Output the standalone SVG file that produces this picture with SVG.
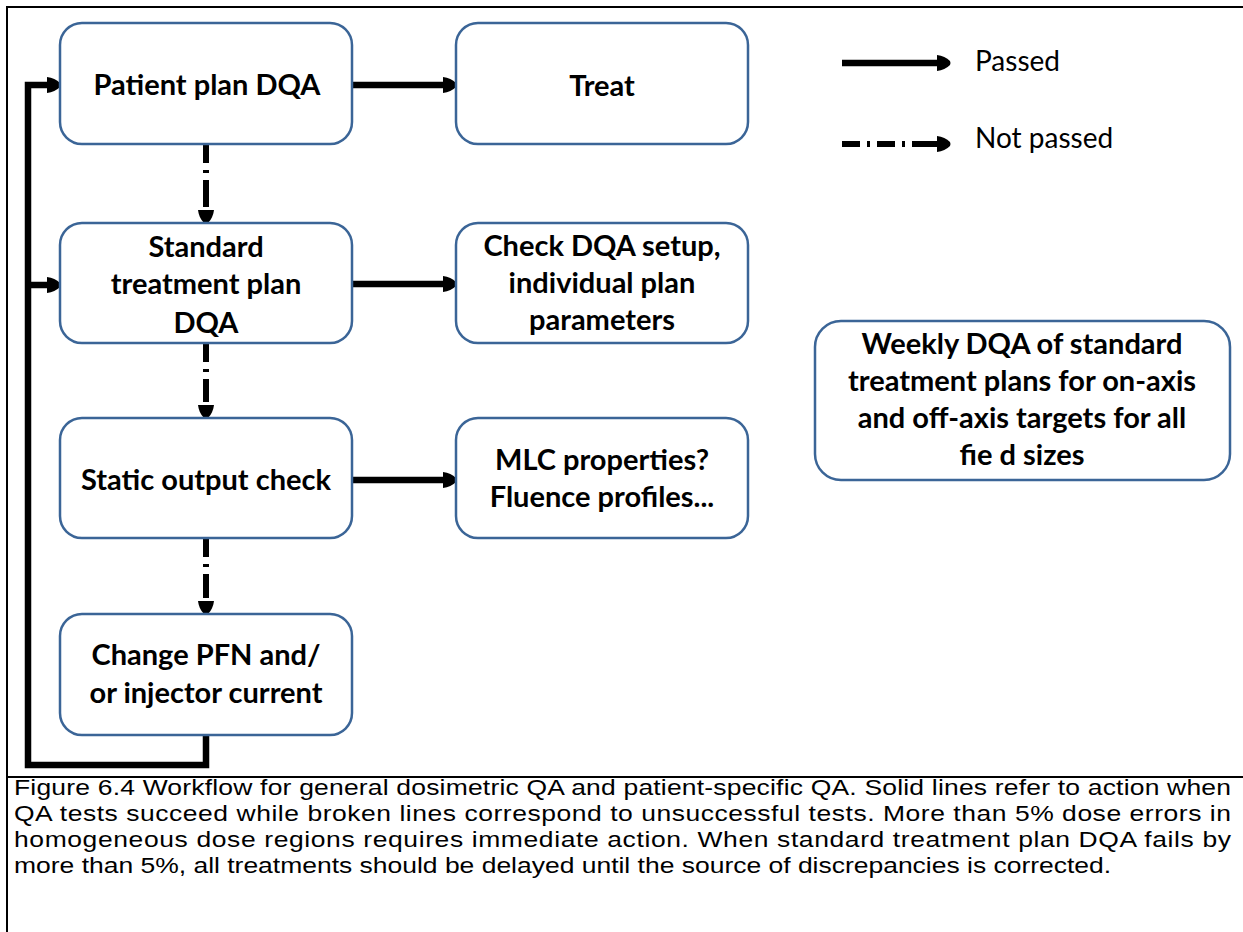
<svg xmlns="http://www.w3.org/2000/svg" width="1243" height="932" viewBox="0 0 1243 932">
<style>
.box{fill:#fff;stroke:#3b6597;stroke-width:2.5}
.t{font-family:Lato,"Liberation Sans",sans-serif;font-weight:bold;font-size:29px;fill:#000;text-anchor:middle}
.lg{font-family:Lato,"Liberation Sans",sans-serif;font-size:28px;fill:#000}
.cap{font-family:"Liberation Sans",Arial,sans-serif;font-size:22px;fill:#000}
.solid{fill:none;stroke:#000;stroke-width:6.5}
.dash{fill:none;stroke:#000;stroke-width:6;stroke-dasharray:18 7 3 7 60;stroke-linecap:butt}
.frame{fill:none;stroke:#000;stroke-width:2}
</style>
<defs>
<marker id="ah" markerUnits="userSpaceOnUse" viewBox="0 -9 14 18" refX="0" refY="0" markerWidth="14" markerHeight="18" orient="auto">
<path d="M0,-8 Q8,-7 13,-2 Q14,0 13,2 Q8,7 0,8 Z" fill="#000"/>
</marker>
<marker id="ahd" markerUnits="userSpaceOnUse" viewBox="-3 -9 17 18" refX="-3" refY="0" markerWidth="17" markerHeight="18" orient="auto">
<path d="M0,-8 Q8,-7 13,-2 Q14,0 13,2 Q8,7 0,8 Z" fill="#000"/>
</marker>
</defs>
<g id="frame">
<line class="frame" x1="7" y1="7" x2="1243" y2="7"/>
<line class="frame" x1="7" y1="6" x2="7" y2="932"/>
<line class="frame" x1="7" y1="777" x2="1243" y2="777"/>
</g>
<g id="connectors">
<path class="solid" d="M206,735 V765 H28 V85 H47" marker-end="url(#ah)" stroke-linejoin="miter"/>
<path class="solid" d="M28,285 H47" marker-end="url(#ah)"/>
<path class="solid" d="M352,85 H443" marker-end="url(#ah)"/>
<path class="solid" d="M352,284 H443" marker-end="url(#ah)"/>
<path class="solid" d="M352,480 H443" marker-end="url(#ah)"/>
<path class="dash" d="M206,145 V207" marker-end="url(#ahd)"/>
<path class="dash" d="M206,344 V402" marker-end="url(#ahd)"/>
<path class="dash" d="M206,539 V598" marker-end="url(#ahd)"/>
</g>
<g id="legend">
<path class="solid" d="M842,63 H937" marker-end="url(#ah)"/>
<path class="dash" d="M842,144 H937" style="stroke-dasharray:18 7 3 7 18 7 3 7 40" marker-end="url(#ah)"/>
<text class="lg" x="975" y="71">Passed</text>
<text class="lg" x="975" y="148">Not passed</text>
</g>
<g id="patient">
<rect class="box" x="60" y="23" width="292" height="121" rx="22"/>
<text class="t" x="207" y="95">Patient plan DQA</text>
</g>
<g id="treat">
<rect class="box" x="456" y="23" width="292" height="121" rx="22"/>
<text class="t" x="602" y="96">Treat</text>
</g>
<g id="standard">
<rect class="box" x="60" y="223" width="292" height="120" rx="22"/>
<text class="t" x="206" y="257">Standard</text>
<text class="t" x="206" y="294">treatment plan</text>
<text class="t" x="206" y="333">DQA</text>
</g>
<g id="checkdqa">
<rect class="box" x="456" y="223" width="292" height="120" rx="22"/>
<text class="t" x="602" y="256">Check DQA setup,</text>
<text class="t" x="602" y="293">individual plan</text>
<text class="t" x="602" y="330">parameters</text>
</g>
<g id="static">
<rect class="box" x="60" y="418" width="292" height="120" rx="22"/>
<text class="t" x="206" y="490">Static output check</text>
</g>
<g id="mlc">
<rect class="box" x="456" y="418" width="292" height="120" rx="22"/>
<text class="t" x="602" y="470">MLC properties?</text>
<text class="t" x="602" y="507">Fluence profiles...</text>
</g>
<g id="change">
<rect class="box" x="60" y="614" width="292" height="121" rx="22"/>
<text class="t" x="206" y="665">Change PFN and/</text>
<text class="t" x="206" y="703">or injector current</text>
</g>
<g id="weekly">
<rect class="box" x="815" y="321" width="415" height="159" rx="26"/>
<text class="t" x="1022" y="354">Weekly DQA of standard</text>
<text class="t" x="1022" y="391">treatment plans for on-axis</text>
<text class="t" x="1022" y="428">and off-axis targets for all</text>
<text class="t" x="1022" y="465">fie d sizes</text>
</g>
<g id="caption" transform="translate(14,0) scale(1.203,1)">
<text class="cap" x="0" y="795" textLength="1011.6" lengthAdjust="spacing">Figure 6.4 Workflow for general dosimetric QA and patient-specific QA. Solid lines refer to action when</text>
<text class="cap" x="0" y="821" textLength="1011.6" lengthAdjust="spacing">QA tests succeed while broken lines correspond to unsuccessful tests. More than 5% dose errors in</text>
<text class="cap" x="0" y="847" textLength="1011.6" lengthAdjust="spacing">homogeneous dose regions requires immediate action. When standard treatment plan DQA fails by</text>
<text class="cap" x="0" y="873">more than 5%, all treatments should be delayed until the source of discrepancies is corrected.</text>
</g>
</svg>
